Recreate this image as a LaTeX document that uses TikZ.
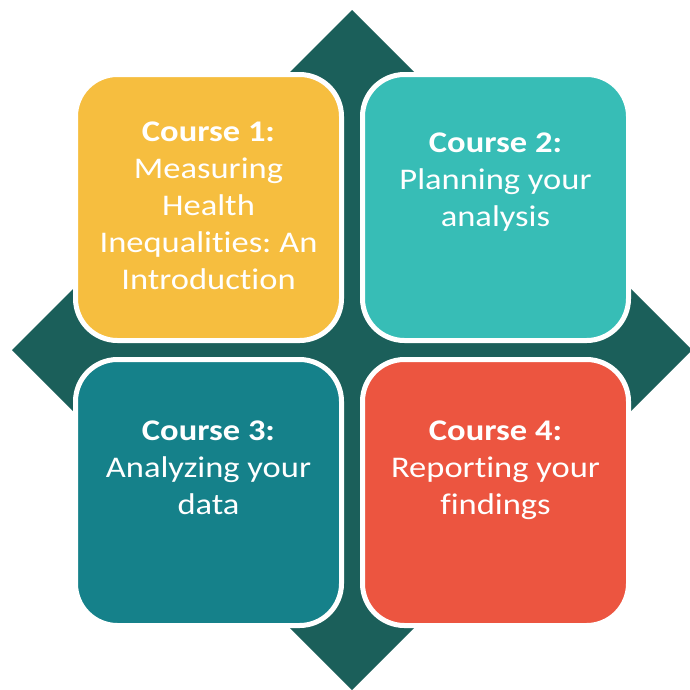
\documentclass[tikz,border=0pt]{standalone}
\usepackage{fontspec}
\setmainfont[FakeStretch=1.15, Ligatures=NoCommon]{Carlito}
\usetikzlibrary{positioning}
\frenchspacing

\definecolor{hubteal}{HTML}{1B5F5A}
\definecolor{courseyellow}{HTML}{F6BE3F}
\definecolor{courseaqua}{HTML}{37BDB6}
\definecolor{coursepetrol}{HTML}{15818A}
\definecolor{coursered}{HTML}{EC5540}

\tikzset{
  course/.style={draw=white, line width=5pt, rounded corners=42pt,
    minimum width=266pt, minimum height=266pt, outer sep=0pt},
  coursetext/.style={text=white, align=center, inner sep=0pt,
    font=\fontsize{30}{37}\selectfont}
}

\begin{document}
\begin{tikzpicture}[x=1pt,y=-1pt]
    \useasboundingbox (0,0) rectangle (690,689);
    % diamond behind the four courses
    \fill[hubteal] (352,10) -- (692,350) -- (352,690) -- (12,350) -- cycle;

    \node[course, fill=courseyellow] (c1) at (208.5,207.5) {};
    \node[course, fill=courseaqua]   (c2) at (495.5,207.5) {};
    \node[course, fill=coursepetrol] (c3) at (208.5,492.5) {};
    \node[course, fill=coursered]    (c4) at (495.5,492.5) {};

    \node[coursetext, below=47pt of c1.north] (t1)
        {\textbf{Course 1:}\\Measuring\\Health\\Inequalities: An\\Introduction};
    \node[coursetext, below=58pt of c2.north] (t2)
        {\textbf{Course 2:}\\Planning your\\analysis};
    \node[coursetext, below=61pt of c3.north] (t3)
        {\textbf{Course 3:}\\Analyzing your\\data};
    \node[coursetext, below=61pt of c4.north] (t4)
        {\textbf{Course 4:}\\Reporting your\\findings};
\end{tikzpicture}
\end{document}
